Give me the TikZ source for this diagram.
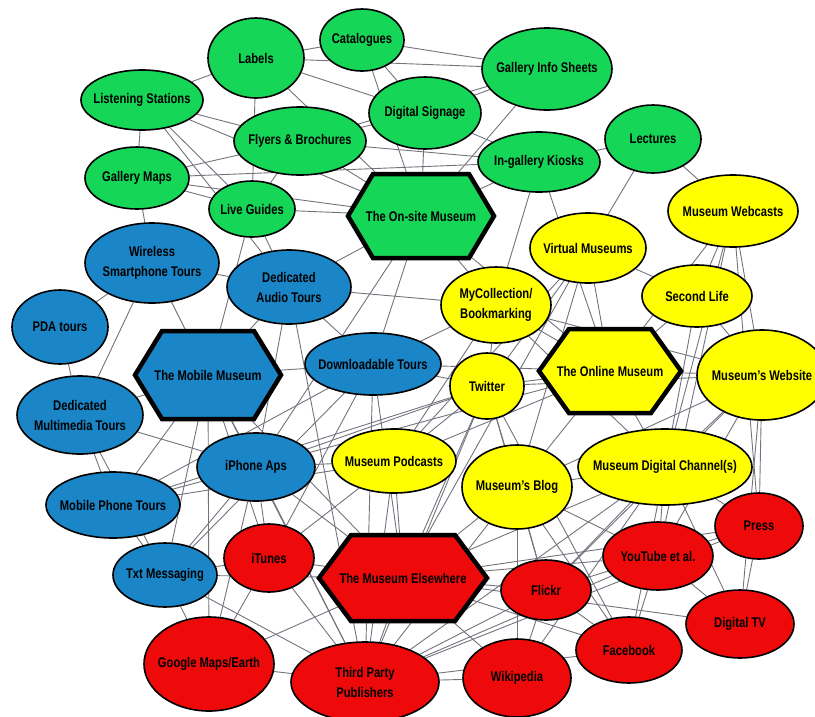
\documentclass[tikz,border=0pt]{standalone}
\usepackage{fontspec}
\setmainfont{Liberation Sans}[FakeStretch=0.8]
\usetikzlibrary{shapes.geometric}
\pgfdeclarelayer{bg}
\pgfsetlayers{bg,main}
\definecolor{cgreen}{RGB}{22,214,88}
\definecolor{cblue}{RGB}{26,134,200}
\definecolor{cyellow}{RGB}{255,255,0}
\definecolor{cred}{RGB}{238,10,10}
\definecolor{cedge}{RGB}{115,115,125}
\tikzset{
  ellnode/.style={ellipse,draw=black,line width=1.6pt,inner sep=0pt},
  txtnode/.style={inner sep=0pt,align=center,font=\fontsize{14}{20}\selectfont\bfseries},
  hexline/.style={draw=black,line width=4.5pt,line join=miter},
  edge/.style={draw=cedge,line width=0.9pt}
}
\newcommand\enode[7]{%
  \node[ellnode,fill=#6,minimum width=#4pt,minimum height=#5pt] (#1) at (#2,#3) {};
  \node[txtnode] at (#1.center) {#7};}
\newcommand\hexnode[8]{%
  \draw[hexline,fill=#7] (#2-#4,#3) -- (#2-#6,#3-#5) -- (#2+#6,#3-#5) -- (#2+#4,#3)
     -- (#2+#6,#3+#5) -- (#2-#6,#3+#5) -- cycle;
  \node[txtnode] (#1) at (#2,#3) {#8};}
\begin{document}
\begin{tikzpicture}[x=1pt,y=-1pt]
\useasboundingbox (0,0) rectangle (815,716);
% green
\enode{ls}{142}{100}{122}{60}{cgreen}{Listening Stations}
\enode{lab}{256}{58}{96}{80}{cgreen}{Labels}
\enode{cat}{362}{40}{84}{62}{cgreen}{Catalogues}
\enode{gis}{547}{69}{130}{82}{cgreen}{Gallery Info Sheets}
\enode{ds}{425}{113}{112}{72}{cgreen}{Digital Signage}
\enode{fb}{300}{141}{132}{68}{cgreen}{Flyers \& Brochures}
\enode{gm}{137}{178}{104}{62}{cgreen}{Gallery Maps}
\enode{lg}{252}{209}{86}{56}{cgreen}{Live Guides}
\enode{kio}{539}{162}{122}{60}{cgreen}{In-gallery Kiosks}
\enode{lec}{653}{139}{96}{68}{cgreen}{Lectures}
\hexnode{onsite}{421}{216}{73}{42}{48}{cgreen}{The On-site Museum}
% blue
\enode{wst}{152}{263}{134}{80}{cblue}{Wireless\\Smartphone Tours}
\enode{dat}{289}{287}{124}{74}{cblue}{Dedicated\\Audio Tours}
\enode{pda}{60}{327}{96}{74}{cblue}{PDA tours}
\hexnode{mobile}{208}{375}{73}{44}{46}{cblue}{The Mobile Museum}
\enode{dlt}{373}{364}{136}{62}{cblue}{Downloadable Tours}
\enode{dmt}{80}{415}{126}{78}{cblue}{Dedicated\\Multimedia Tours}
\enode{iph}{256}{467}{118}{68}{cblue}{iPhone Aps}
\enode{mpt}{113}{505}{134}{66}{cblue}{Mobile Phone Tours}
\enode{txt}{165}{575}{104}{64}{cblue}{Txt Messaging}
% yellow
\enode{web}{733}{211}{130}{72}{cyellow}{Museum Webcasts}
\enode{vm}{588}{248}{116}{70}{cyellow}{Virtual Museums}
\enode{sl}{697}{296}{110}{62}{cyellow}{Second Life}
\enode{myc}{496}{305}{110}{76}{cyellow}{MyCollection/\\Bookmarking}
\hexnode{online}{610}{371}{71}{42}{41}{cyellow}{The Online Museum}
\enode{site}{762}{375}{130}{90}{cyellow}{Museum's Website}
\enode{tw}{487}{386}{74}{66}{cyellow}{Twitter}
\enode{pod}{394}{461}{124}{64}{cyellow}{Museum Podcasts}
\enode{blog}{517}{487}{110}{84}{cyellow}{Museum's Blog}
\enode{mdc}{665}{467}{174}{76}{cyellow}{Museum Digital Channel(s)}
% red
\enode{itu}{269}{558}{90}{68}{cred}{iTunes}
\enode{gme}{209}{664}{130}{94}{cred}{Google Maps/Earth}
\enode{tpp}{365}{682}{148}{80}{cred}{Third Party\\Publishers}
\hexnode{elsewhere}{403}{578}{84}{43}{52}{cred}{The Museum Elsewhere}
\enode{fli}{546}{590}{90}{60}{cred}{Flickr}
\enode{yt}{658}{556}{110}{68}{cred}{YouTube et al.}
\enode{press}{759}{526}{88}{66}{cred}{Press}
\enode{dtv}{740}{624}{108}{68}{cred}{Digital TV}
\enode{fbk}{629}{650}{106}{66}{cred}{Facebook}
\enode{wiki}{517}{678}{108}{78}{cred}{Wikipedia}
\begin{pgfonlayer}{bg}
\foreach \a/\b in {
 ls/lab, ls/gm, ls/fb, ls/lg, ls/onsite, ls/dat,
 lab/cat, lab/gis, lab/lg, lab/onsite, lab/ds,
 cat/gis, cat/ds, cat/onsite,
 gis/ds, fb/gis, gis/onsite,
 ds/kio, ds/onsite, ds/fb,
 fb/gm, fb/onsite, fb/lg, fb/kio,
 gm/lg, gm/onsite, gm/kio, gm/wst,
 lg/onsite, lg/mobile, lg/dat,
 kio/onsite, kio/lec, kio/myc, kio/online,
 lec/vm, lec/web,
 onsite/dlt, onsite/iph, onsite/myc, onsite/dat, onsite/online,
 wst/pda, wst/mobile, wst/dmt, wst/dat,
 pda/dmt,
 dat/mobile, dat/dlt, dat/myc, dat/tpp, dat/iph,
 mobile/dmt, mobile/dlt, mobile/iph, mobile/mpt, mobile/txt, mobile/gme,
 mobile/tpp, mobile/elsewhere, mobile/itu,
 dlt/myc, dlt/tw, dlt/online, dlt/mpt, dlt/txt, dlt/elsewhere, dlt/tpp, dlt/itu,
 dmt/mpt, dmt/iph, dmt/txt,
 iph/mpt, iph/txt, iph/itu, iph/elsewhere, iph/tw, iph/online, iph/tpp, iph/gme,
 mpt/txt, mpt/tw, mpt/pod,
 txt/itu, txt/gme, txt/tpp, txt/elsewhere,
 web/site, web/mdc, web/sl, web/online, web/yt, web/press,
 vm/sl, vm/online, vm/tw, vm/blog, vm/pod, vm/elsewhere,
 sl/online, sl/mdc, sl/site,
 myc/online, myc/site, myc/tw, myc/pod, myc/mdc,
 online/site, online/tw, online/mdc, online/blog, online/pod,
 site/mdc, site/press, site/blog, site/yt, site/fli, site/dtv, site/tw,
 tw/pod, tw/blog, tw/elsewhere, tw/fli, tw/fbk, tw/tpp,
 pod/elsewhere, pod/tpp, pod/itu, pod/iph,
 blog/mdc, blog/elsewhere, blog/fli, blog/yt, blog/fbk, blog/wiki, blog/tpp,
 mdc/press, mdc/yt, mdc/fli, mdc/fbk, mdc/dtv, mdc/elsewhere, mdc/tpp, mdc/wiki,
 itu/elsewhere, itu/tpp, itu/gme,
 gme/tpp, gme/elsewhere,
 tpp/elsewhere, tpp/wiki, tpp/fli, tpp/yt, tpp/fbk, tpp/press,
 elsewhere/fli, elsewhere/yt, elsewhere/fbk, elsewhere/wiki, elsewhere/press, elsewhere/dtv,
 fli/yt, fli/fbk, fli/wiki,
 yt/press, yt/dtv, yt/fbk,
 press/dtv}
 \draw[edge] (\a) -- (\b);
\end{pgfonlayer}
\end{tikzpicture}
\end{document}
